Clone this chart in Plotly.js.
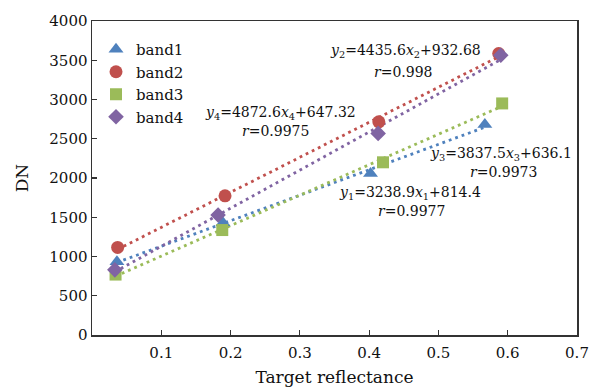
<!DOCTYPE html>
<html>
<head>
<meta charset="utf-8">
<script src="https://cdn.plot.ly/plotly-3.0.1.min.js"></script>
<style>html,body{margin:0;padding:0;background:#fff;}#chart{width:590px;height:387px;}</style>
</head>
<body>
<div id="chart"></div>
<script>
// Data
const bandNames = ["band1", "band2", "band3", "band4"];
const band1X = [0.036, 0.189, 0.402, 0.567];
const band1Y = [933, 1430, 2058, 2680];
const band2X = [0.037, 0.192, 0.414, 0.587];
const band2Y = [1115, 1773, 2715, 3586];
const band3X = [0.034, 0.188, 0.420, 0.592];
const band3Y = [770, 1337, 2200, 2950];
const band4X = [0.033, 0.182, 0.413, 0.590];
const band4Y = [830, 1528, 2568, 3564];
const eqTexts = [
  "<i>y</i><sub>1</sub>=3238.9<i>x</i><sub>1</sub>+814.4",
  "<i>y</i><sub>2</sub>=4435.6<i>x</i><sub>2</sub>+932.68",
  "<i>y</i><sub>3</sub>=3837.5<i>x</i><sub>3</sub>+636.1",
  "<i>y</i><sub>4</sub>=4872.6<i>x</i><sub>4</sub>+647.32"
];
const rTexts = ["<i>r</i>=0.9977", "<i>r</i>=0.998", "<i>r</i>=0.9973", "<i>r</i>=0.9975"];
const xTicks = [0.1, 0.2, 0.3, 0.4, 0.5, 0.6, 0.7];
const yTicks = [0, 500, 1000, 1500, 2000, 2500, 3000, 3500, 4000];

const colors = ["#4F81BD", "#C0504D", "#9BBB59", "#8064A2"];
const symbols = ["triangle-up", "circle", "square", "diamond"];
const sizes = [13, 13, 12, 12];
const xs = [band1X, band2X, band3X, band4X];
const ys = [band1Y, band2Y, band3Y, band4Y];

function fit(x, y) {
  const n = x.length;
  const mx = x.reduce((a, b) => a + b, 0) / n;
  const my = y.reduce((a, b) => a + b, 0) / n;
  let sxy = 0, sxx = 0;
  for (let i = 0; i < n; i++) { sxy += (x[i] - mx) * (y[i] - my); sxx += (x[i] - mx) ** 2; }
  const k = sxy / sxx;
  return [k, my - k * mx];
}

const traces = [];
// trendlines first (below markers)
for (let i = 0; i < 4; i++) {
  const [k, b] = fit(xs[i], ys[i]);
  const x0 = Math.min(...xs[i]), x1 = Math.max(...xs[i]);
  traces.push({
    x: [x0, x1], y: [k * x0 + b, k * x1 + b], mode: "lines", showlegend: false,
    hoverinfo: "skip",
    line: {color: colors[i], width: 2.8, dash: "2.8px,4px"}
  });
}
for (let i = 0; i < 4; i++) {
  traces.push({
    x: xs[i], y: ys[i], mode: "markers", name: bandNames[i],
    marker: {color: colors[i], symbol: symbols[i], size: sizes[i], line: {width: 0}}
  });
}

const W = 590, H = 387, L = 92, R = 13, T = 21, B = 52;
const pw = W - L - R, ph = H - T - B;
function px(x) { return (x - L) / pw; }
function py(y) { return (H - B - y) / ph; }
const eqPos = [[410, 193], [405, 51], [501, 154], [280, 113]];
const rPos = [[411, 211], [403, 72], [503, 172], [275, 131]];
const serif = "DejaVu Serif";
const annotations = [];
for (let i = 0; i < 4; i++) {
  annotations.push({xref: "paper", yref: "paper", x: px(eqPos[i][0]), y: py(eqPos[i][1]),
    text: eqTexts[i], showarrow: false, xanchor: "center", yanchor: "middle",
    font: {family: serif, size: 14, color: "#111"}});
  annotations.push({xref: "paper", yref: "paper", x: px(rPos[i][0]), y: py(rPos[i][1]),
    text: rTexts[i], showarrow: false, xanchor: "center", yanchor: "middle",
    font: {family: serif, size: 14, color: "#111"}});
}

const layout = {
  width: W, height: H,
  margin: {l: L, r: R, t: T, b: B, pad: 0},
  paper_bgcolor: "#fff", plot_bgcolor: "#fff",
  font: {family: serif, size: 15, color: "#111"},
  showlegend: true,
  legend: {x: px(96), y: py(33), xanchor: "left", yanchor: "top",
    bgcolor: "rgba(0,0,0,0)", font: {family: serif, size: 15, color: "#111"},
    tracegroupgap: 0, itemwidth: 30},
  xaxis: {
    range: [0, 0.7], tickvals: xTicks, ticktext: xTicks.map(v => v.toFixed(1)),
    ticks: "inside", ticklen: 5, tickcolor: "#333", tickwidth: 1.2,
    showline: true, linecolor: "#333", linewidth: 1.5, mirror: true,
    showgrid: false, zeroline: false, ticklabelstandoff: 3,
    tickfont: {family: serif, size: 15, color: "#111"},
    title: {text: "Target reflectance", font: {family: serif, size: 17, color: "#111"}, standoff: 13}
  },
  yaxis: {
    range: [0, 4000], tickvals: yTicks, ticktext: yTicks.map(String),
    ticks: "inside", ticklen: 5, tickcolor: "#333", tickwidth: 1.2,
    showline: true, linecolor: "#333", linewidth: 1.5, mirror: true,
    showgrid: false, zeroline: false,
    tickfont: {family: serif, size: 15, color: "#111"},
    title: {text: "DN", font: {family: serif, size: 17, color: "#111"}, standoff: 16}
  },
  annotations: annotations
};

Plotly.newPlot("chart", traces, layout, {staticPlot: true, displayModeBar: false});
</script>
</body>
</html>
